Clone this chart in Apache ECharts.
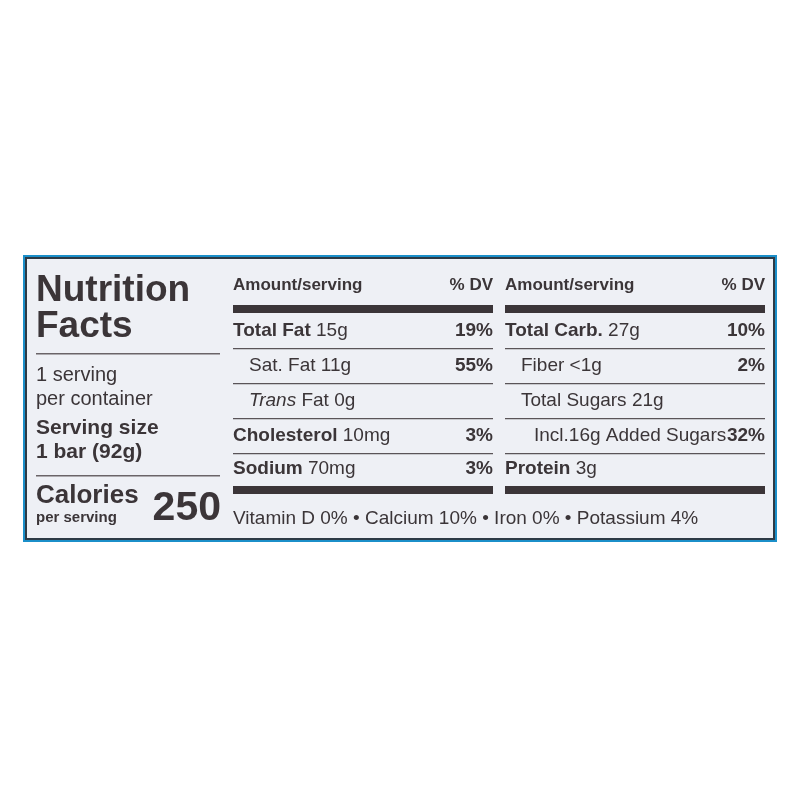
<!DOCTYPE html>
<html><head><meta charset="utf-8">
<script src="https://cdn.jsdelivr.net/npm/echarts@6/dist/echarts.min.js"></script>
<style>html,body{margin:0;background:#fff}#c{width:800px;height:800px}</style>
</head><body><div id="c"></div>
<script>
const title = ["Nutrition", "Facts"];
const servingInfo = ["1 serving", "per container"];
const servingSize = ["Serving size", "1 bar (92g)"];
const calories = "250";
const headers = ["Amount/serving", "% DV"];
// [boldLabel, plainText, dv, indentLevel, italicPart]
const leftRows = [
  ["Total Fat", " 15g", "19%", 0, ""],
  ["", "Sat. Fat 11g", "55%", 1, ""],
  ["", " Fat 0g", "", 1, "Trans"],
  ["Cholesterol", " 10mg", "3%", 0, ""],
  ["Sodium", " 70mg", "3%", 0, ""]
];
const rightRows = [
  ["Total Carb.", " 27g", "10%", 0, ""],
  ["", "Fiber <1g", "2%", 1, ""],
  ["", "Total Sugars 21g", "", 1, ""],
  ["", "Incl.16g Added Sugars", "32%", 2, ""],
  ["Protein", " 3g", "", 0, ""]
];
const footer = "Vitamin D 0% • Calcium 10% • Iron 0% • Potassium 4%";

const F = '"Liberation Sans", Arial, sans-serif';
const C = '#3b3538';
const g = [];
function t(x, y, text, size, weight, opts) {
  opts = opts || {};
  g.push({type:'text', x, y, style:{text, fontSize:size, fontWeight:weight||'normal', fontStyle:opts.italic?'italic':'normal', fill:C, fontFamily:F, textAlign:opts.align||'left', textVerticalAlign:'middle'}});
}
function r(x, y, w, h, fill) { g.push({type:'rect', shape:{x,y,width:w,height:h}, style:{fill:fill||C}}); }
const ctx = document.createElement('canvas').getContext('2d');
function measure(text, size, weight, italic) {
  ctx.font = (italic?'italic ':'') + (weight||'normal') + ' ' + size + 'px ' + F;
  return ctx.measureText(text).width;
}
// panel
g.push({type:'rect', shape:{x:23,y:255,width:754,height:287}, style:{fill:'#1b8fc9'}});
g.push({type:'rect', shape:{x:26,y:258,width:748,height:281}, style:{fill:'#eef0f5', stroke:'#2d3a45', lineWidth:2}});
// left block
t(36, 291, title[0], 37, 'bold');
t(36, 327, title[1], 37, 'bold');
r(36, 353, 184, 1.5, '#6a6468');
t(36, 375, servingInfo[0], 20);
t(36, 399, servingInfo[1], 20);
t(36, 428, servingSize[0], 21, 'bold');
t(36, 452, servingSize[1], 21, 'bold');
r(36, 475, 184, 1.5, '#6a6468');
t(36, 496, "Calories", 26, 'bold');
t(36, 518, "per serving", 15, 'bold');
t(221, 509, calories, 41, 'bold', {align:'right'});
// columns
const rowY = [331, 366, 401, 436, 469];
const lineY = [348, 383, 418, 453];
function column(x0, x1, rows) {
  t(x0, 285, headers[0], 17, 'bold');
  t(x1, 285, headers[1], 17, 'bold', {align:'right'});
  r(x0, 305, x1 - x0, 8);
  lineY.forEach(y => r(x0, y, x1 - x0, 1.2, '#5a5458'));
  rows.forEach((row, i) => {
    let x = x0 + [0, 16, 29][row[3]];
    const y = rowY[i];
    if (row[0]) { t(x, y, row[0], 19, 'bold'); x += measure(row[0], 19, 'bold'); }
    if (row[4]) { t(x, y, row[4], 19, 'normal', {italic:true}); x += measure(row[4], 19, 'normal', true); }
    t(x, y, row[1], 19);
    if (row[2]) t(x1, y, row[2], 19, 'bold', {align:'right'});
  });
  r(x0, 486, x1 - x0, 8);
}
column(233, 493, leftRows);
column(505, 765, rightRows);
t(233, 519, footer, 19);

const chart = echarts.init(document.getElementById('c'));
chart.setOption({animation:false, graphic:g});
</script></body></html>
